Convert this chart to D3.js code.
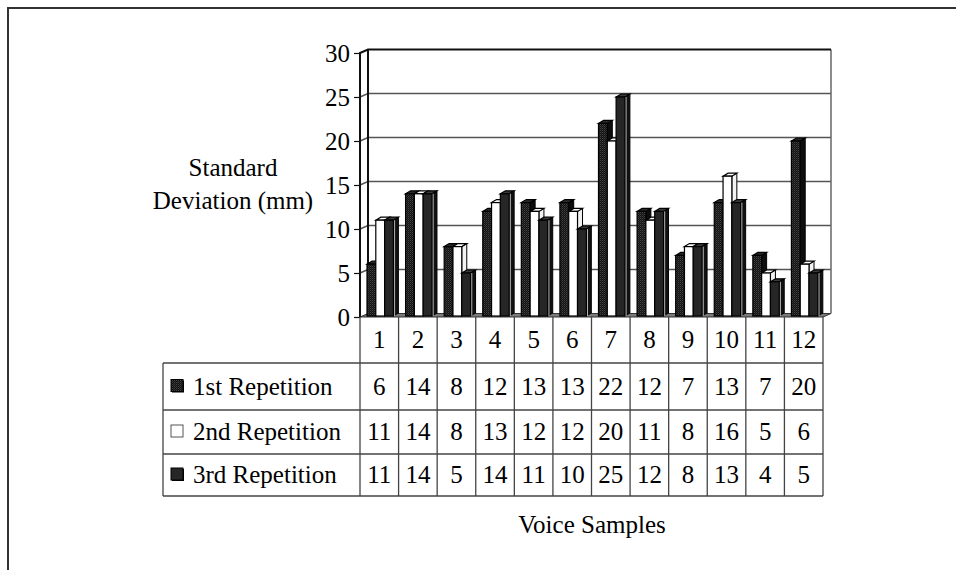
<!DOCTYPE html>
<html>
<head>
<meta charset="utf-8">
<script src="https://cdn.jsdelivr.net/npm/d3@7"></script>
<style>
  html, body { margin: 0; padding: 0; background: #fff; }
  svg { display: block; }
  svg text { font-family: "Liberation Serif", "Times New Roman", Times, serif; }
</style>
</head>
<body>
<svg id="chart" width="956" height="570"></svg>
<script>
// ---- data ----
const categories = ['1','2','3','4','5','6','7','8','9','10','11','12'];
const seriesNames = ['1st Repetition', '2nd Repetition', '3rd Repetition'];
const rep1 = [6, 14, 8, 12, 13, 13, 22, 12, 7, 13, 7, 20];
const rep2 = [11, 14, 8, 13, 12, 12, 20, 11, 8, 16, 5, 6];
const rep3 = [11, 14, 5, 14, 11, 10, 25, 12, 8, 13, 4, 5];
const yTicks = [0, 5, 10, 15, 20, 25, 30];
const yTitleLines = ['Standard', 'Deviation (mm)'];
const xTitle = 'Voice Samples';

const seriesValues = [rep1, rep2, rep3];

// ---- layout ----
const FONT = '"Liberation Serif", "Times New Roman", Times, serif';
const FS = 25;
const plotLeft = 360, plotRight = 823;
const floorY = 317, topY = 53;
const wallDX = 8, wallDY = 3.5;     // depth offset of the back wall
const barDX = 5, barDY = 3;         // depth of each column
const tableLeft = 163;
const rowLines = [317, 363, 410, 454, 496];

const svg = d3.select('#chart');

const x = d3.scaleBand().domain(categories).range([plotLeft, plotRight]).padding(0);
const y = d3.scaleLinear().domain([0, 30]).range([floorY, topY]);
const sx = d3.scaleBand().domain(seriesNames).range([7, 33.4]).padding(0);

// fill patterns
const defs = svg.append('defs');
const stip = defs.append('pattern').attr('id', 'stipple')
  .attr('width', 2).attr('height', 2).attr('patternUnits', 'userSpaceOnUse');
stip.append('rect').attr('width', 2).attr('height', 2).attr('fill', '#121212');
stip.append('rect').attr('width', 1).attr('height', 1).attr('fill', '#444');
stip.append('rect').attr('x', 1).attr('y', 1).attr('width', 1).attr('height', 1).attr('fill', '#2a2a2a');

const styles = [
  { front: 'url(#stipple)', side: '#0d0d0d', top: '#2a2a2a', edge: '#000' },
  { front: '#ffffff', side: '#f2f2f2', top: '#ffffff', edge: '#000' },
  { front: '#262626', side: '#111111', top: '#3a3a3a', edge: '#000' }
];

// outer frame
svg.append('path').attr('d', 'M8,570 V8 H956')
  .attr('fill', 'none').attr('stroke', '#333').attr('stroke-width', 2);

// back wall
const backLeft = plotLeft + wallDX, backRight = plotRight + wallDX;
svg.append('rect')
  .attr('x', backLeft).attr('y', y(30) - wallDY)
  .attr('width', backRight - backLeft).attr('height', floorY - y(30))
  .attr('fill', '#fff');

// gridlines: diagonal across the side wall, then along the back wall
svg.append('g').selectAll('path').data(yTicks.filter(t => t > 0 && t < 30)).join('path')
  .attr('d', t => `M${plotLeft},${y(t)} L${backLeft},${y(t) - wallDY} H${backRight}`)
  .attr('fill', 'none').attr('stroke', '#555').attr('stroke-width', 1.5);

// floor
svg.append('path')
  .attr('d', `M${plotLeft},${floorY} L${backLeft},${floorY - wallDY} H${backRight} L${plotRight},${floorY} Z`)
  .attr('fill', '#7a7a7a').attr('stroke', '#333').attr('stroke-width', 1);

// wall edges
svg.append('path')
  .attr('d', `M${backRight},${y(30) - wallDY} V${floorY - wallDY}`)
  .attr('stroke', '#666').attr('stroke-width', 1.5);
svg.append('path')
  .attr('d', `M${plotLeft},${floorY} V${y(30)} L${backLeft},${y(30) - wallDY} H${backRight}`)
  .attr('fill', 'none').attr('stroke', '#111').attr('stroke-width', 2);
svg.append('path')
  .attr('d', `M${backLeft},${y(30) - wallDY} V${floorY - wallDY}`)
  .attr('stroke', '#111').attr('stroke-width', 2);

// columns
const bars = [];
categories.forEach((c, i) => {
  seriesNames.forEach((s, k) => {
    bars.push({ cat: c, series: k, value: seriesValues[k][i] });
  });
});
const barW = sx.bandwidth();
const base = floorY - 1;
const gBars = svg.append('g');
bars.forEach(b => {
  const x0 = x(b.cat) + sx(seriesNames[b.series]);
  const yt = y(b.value);
  const st = styles[b.series];
  const g = gBars.append('g');
  // side face
  g.append('path')
    .attr('d', `M${x0 + barW},${yt} L${x0 + barW + barDX},${yt - barDY} V${base - barDY} L${x0 + barW},${base} Z`)
    .attr('fill', st.side).attr('stroke', st.edge).attr('stroke-width', 1);
  // top face
  g.append('path')
    .attr('d', `M${x0},${yt} L${x0 + barDX},${yt - barDY} H${x0 + barW + barDX} L${x0 + barW},${yt} Z`)
    .attr('fill', st.top).attr('stroke', st.edge).attr('stroke-width', 1.2);
  // front face
  g.append('rect')
    .attr('x', x0).attr('y', yt).attr('width', barW).attr('height', base - yt)
    .attr('fill', st.front).attr('stroke', st.edge).attr('stroke-width', 1.2);
  if (b.series === 2) {
    g.append('path')
      .attr('d', `M${x0 + barW + 1.2},${yt} V${base}`)
      .attr('stroke', '#ddd').attr('stroke-width', 0.8);
  }
});

// y axis ticks and labels
const yAxis = d3.axisLeft(y).tickValues(yTicks).tickSize(6).tickPadding(4).tickFormat(d3.format('d'));
const gy = svg.append('g').attr('transform', `translate(${plotLeft},0)`).call(yAxis)
  .attr('font-family', null).attr('font-size', null);
gy.select('.domain').remove();
gy.selectAll('line').attr('stroke', '#111').attr('stroke-width', 1.2);
gy.selectAll('text').style('font-family', FONT).attr('font-size', FS).attr('fill', '#000');

// y title
svg.append('text')
  .attr('x', 233).attr('y', 176)
  .attr('text-anchor', 'middle').style('font-family', FONT).attr('font-size', FS)
  .selectAll('tspan').data(yTitleLines).join('tspan')
  .attr('x', 233).attr('dy', (d, i) => i === 0 ? 0 : 33).text(d => d);

// data table
const gT = svg.append('g').attr('stroke', '#444').attr('stroke-width', 1.3);
rowLines.slice(1).forEach(ry => {
  gT.append('line').attr('x1', tableLeft).attr('x2', plotRight).attr('y1', ry).attr('y2', ry);
});
const colEdges = categories.map(c => x(c)).concat([plotRight]);
colEdges.forEach(cx => {
  gT.append('line').attr('x1', cx).attr('x2', cx).attr('y1', floorY).attr('y2', rowLines[4]);
});
gT.append('line').attr('x1', tableLeft).attr('x2', tableLeft).attr('y1', rowLines[1]).attr('y2', rowLines[4]);

const rowMid = i => (rowLines[i] + rowLines[i + 1]) / 2;

// category labels
svg.append('g').selectAll('text').data(categories).join('text')
  .attr('x', c => x(c) + x.bandwidth() / 2).attr('y', rowMid(0)).attr('dy', '0.33em')
  .attr('text-anchor', 'middle').style('font-family', FONT).attr('font-size', FS)
  .text(c => c);

// series rows
seriesNames.forEach((name, k) => {
  const cy = rowMid(k + 1);
  const st = styles[k];
  // legend key
  svg.append('rect').attr('x', 172).attr('y', cy - 6).attr('width', 12).attr('height', 12)
    .attr('fill', k === 1 ? '#fff' : '#000');
  svg.append('rect').attr('x', 171).attr('y', cy - 7).attr('width', 12).attr('height', 12)
    .attr('fill', st.front).attr('stroke', k === 1 ? '#555' : '#000').attr('stroke-width', 1);
  svg.append('text')
    .attr('x', 193).attr('y', cy).attr('dy', '0.33em')
    .style('font-family', FONT).attr('font-size', FS).text(name);
  svg.append('g').selectAll('text').data(seriesValues[k]).join('text')
    .attr('x', (v, i) => x(categories[i]) + x.bandwidth() / 2).attr('y', cy).attr('dy', '0.33em')
    .attr('text-anchor', 'middle').style('font-family', FONT).attr('font-size', FS)
    .text(v => v);
});

// x title
svg.append('text')
  .attr('x', 592).attr('y', 533)
  .attr('text-anchor', 'middle').style('font-family', FONT).attr('font-size', FS)
  .text(xTitle);
</script>
</body>
</html>
